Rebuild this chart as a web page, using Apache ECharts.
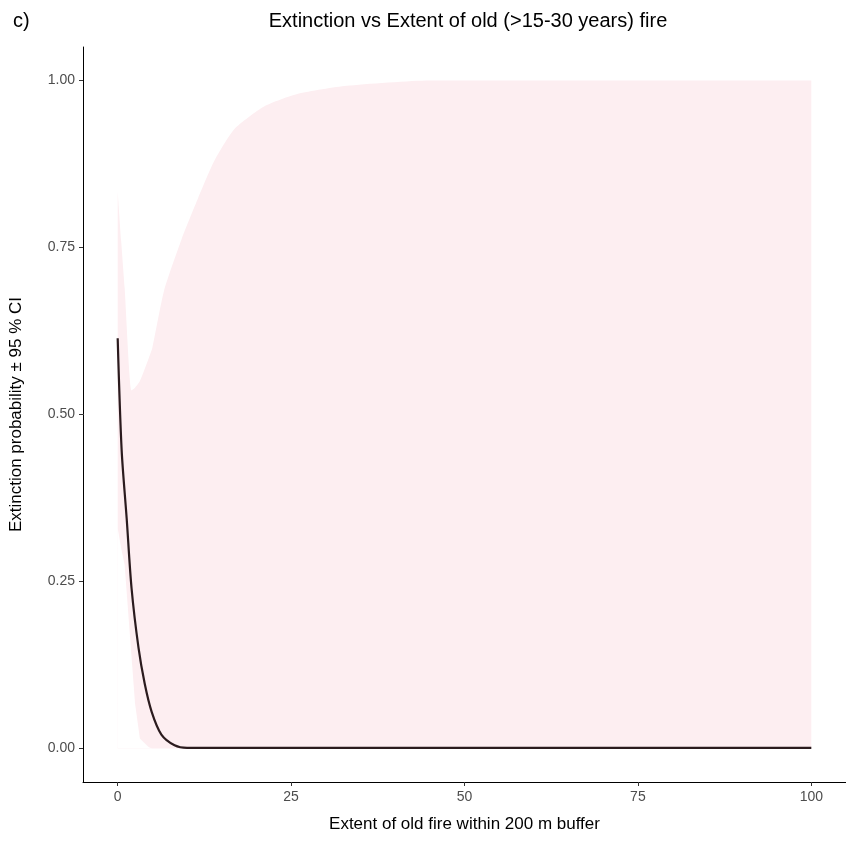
<!DOCTYPE html>
<html>
<head>
<meta charset="utf-8">
<script src="https://cdn.jsdelivr.net/npm/echarts@6/dist/echarts.min.js"></script>
<style>html,body{margin:0;padding:0;background:#fff}#main{width:846px;height:847px}</style>
</head>
<body>
<div id="main"></div>
<script>
// confidence band
var bandX = [0, 0.5, 1, 2, 2.5, 3.2, 4.5, 5, 6.7, 9.2, 11.6, 13.9, 16.8, 21.1, 26, 33, 45, 100];
var bandLow = [0.33, 0.30, 0.275, 0.137, 0.068, 0.015, 0.002, 0, 0, 0, 0, 0, 0, 0, 0, 0, 0, 0];
var bandHigh = [0.834, 0.76, 0.69, 0.536, 0.54, 0.55, 0.585, 0.60, 0.686, 0.762, 0.824, 0.879, 0.927, 0.961, 0.98, 0.992, 1, 1];
// fitted probability
var fitX = [0, 0.57, 1.3, 2, 3, 3.9, 4.9, 6.3, 8.2, 10, 100];
var fitY = [0.614, 0.447, 0.344, 0.24, 0.151, 0.097, 0.055, 0.021, 0.005, 0.001, 0.001];
var xTicks = [0, 25, 50, 75, 100];
var yTicks = [0, 0.25, 0.5, 0.75, 1];

function pairs(xs, ys) {
  return xs.map(function (x, i) { return [x, ys[i]]; });
}

var chart = echarts.init(document.getElementById('main'));
chart.setOption({
  animation: false,
  textStyle: { fontFamily: 'Liberation Sans, Arial, sans-serif' },
  title: [{
    text: 'Extinction vs Extent of old (>15-30 years) fire',
    left: 463, top: 6, textAlign: 'center',
    textStyle: { fontSize: 20, fontWeight: 'normal', color: '#000' }
  }, {
    text: 'c)', left: 8, top: 6,
    textStyle: { fontSize: 20, fontWeight: 'normal', color: '#000' }
  }],
  grid: { left: 79, right: 0, top: 47, bottom: 65 },
  xAxis: {
    type: 'value', min: -5, max: 105,
    name: 'Extent of old fire within 200 m buffer',
    nameLocation: 'middle', nameGap: 34,
    nameTextStyle: { fontSize: 17, color: '#000' },
    splitLine: { show: false },
    axisLine: { onZero: false, lineStyle: { color: '#000', width: 1 } },
    axisTick: { customValues: xTicks, length: 4, lineStyle: { color: '#333' } },
    axisLabel: { customValues: xTicks, fontSize: 14, color: '#4d4d4d', margin: 8 }
  },
  yAxis: {
    type: 'value', min: -0.05, max: 1.05,
    name: 'Extinction probability ± 95 % CI',
    nameLocation: 'middle', nameGap: 58,
    nameTextStyle: { fontSize: 17, color: '#000' },
    splitLine: { show: false },
    axisLine: { show: true, onZero: false, lineStyle: { color: '#000', width: 1 } },
    axisTick: { show: true, customValues: yTicks, length: 4, lineStyle: { color: '#333' } },
    axisLabel: {
      customValues: yTicks, fontSize: 14, color: '#4d4d4d', margin: 8,
      formatter: function (v) { return v.toFixed(2); }
    }
  },
  series: [{
    type: 'line', data: pairs(bandX, bandHigh), smooth: 0.2,
    symbol: 'none', lineStyle: { opacity: 0 }, silent: true,
    areaStyle: { color: '#fdeef1', opacity: 1, origin: 0 }
  }, {
    type: 'line', data: pairs(bandX, bandLow),
    symbol: 'none', lineStyle: { opacity: 0 }, silent: true,
    areaStyle: { color: '#ffffff', opacity: 1, origin: 0 }
  }, {
    type: 'line', data: pairs(fitX, fitY), smooth: 0.3,
    symbol: 'none', lineStyle: { color: '#2b1b1e', width: 2.2 }
  }]
});
</script>
</body>
</html>
